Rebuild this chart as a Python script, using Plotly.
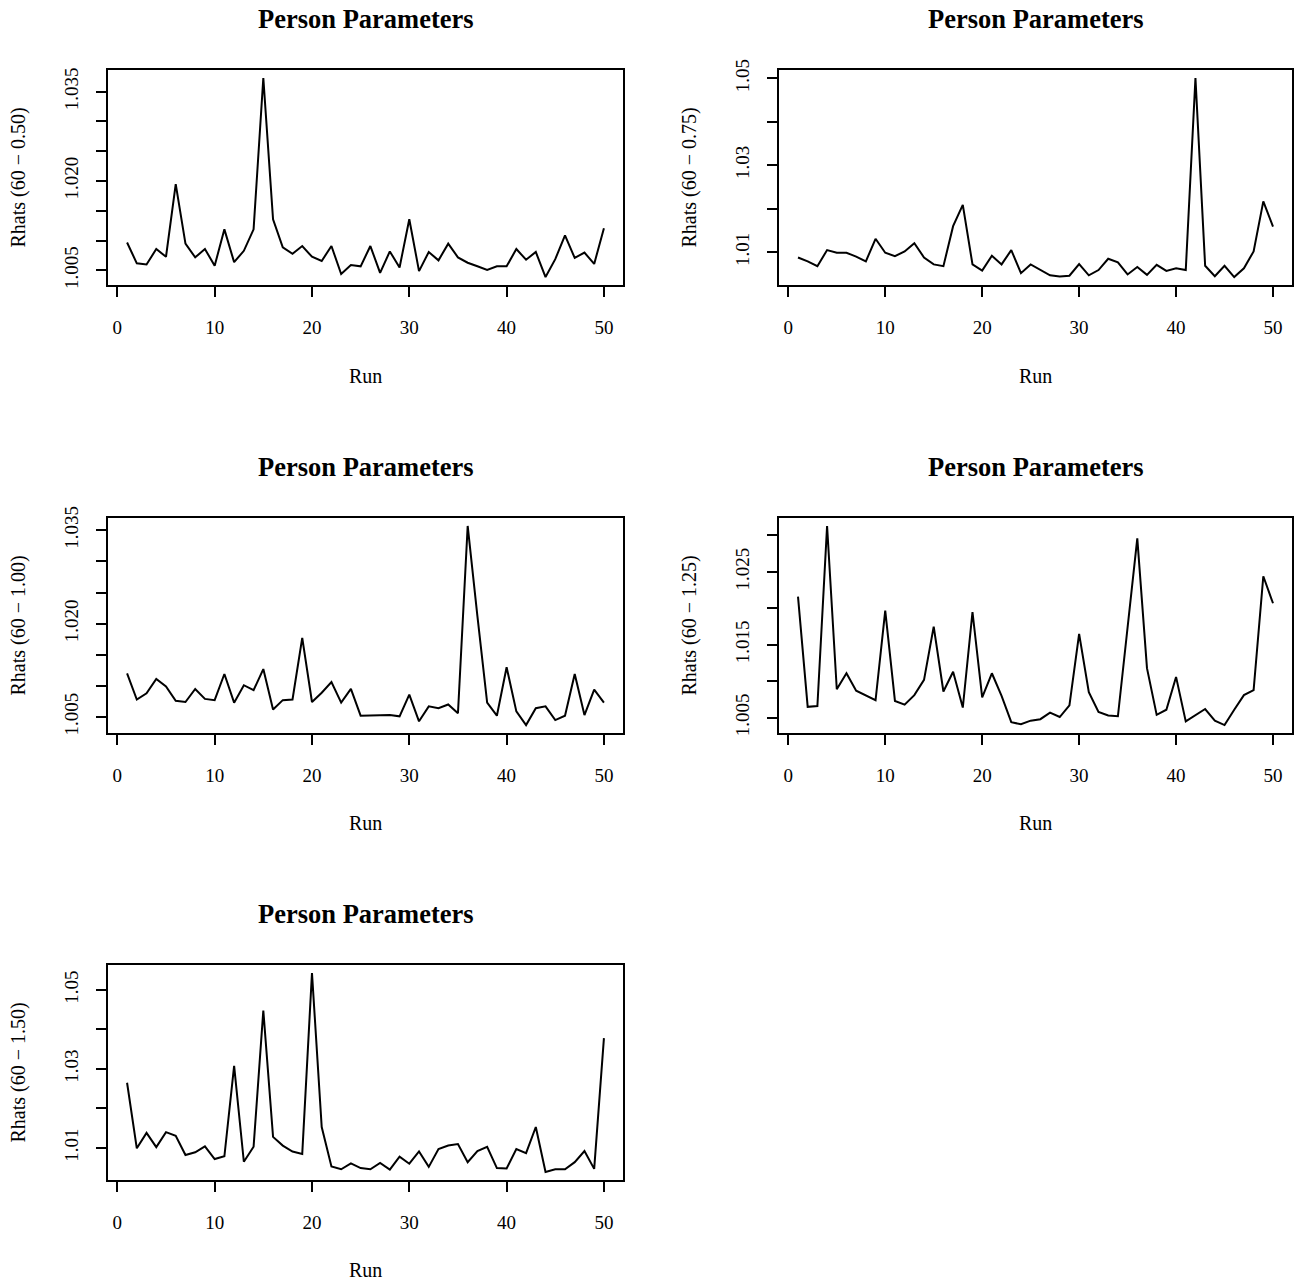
import plotly.graph_objects as go

runs = list(range(1, 51))

rhat_060_050 = [1.0097, 1.0062, 1.0060, 1.0086, 1.0073, 1.0195, 1.0095, 1.0072, 1.0086, 1.0058,
                1.0119, 1.0064, 1.0083, 1.0119, 1.0373, 1.0136, 1.0089, 1.0078, 1.0091, 1.0073,
                1.0066, 1.0091, 1.0044, 1.0059, 1.0057, 1.0091, 1.0046, 1.0082, 1.0055, 1.0136,
                1.0049, 1.0081, 1.0067, 1.0095, 1.0072, 1.0063, 1.0057, 1.0051, 1.0057, 1.0057,
                1.0086, 1.0068, 1.0081, 1.0039, 1.0069, 1.0109, 1.0071, 1.0080, 1.0061, 1.0121]

rhat_060_075 = [1.0088, 1.0079, 1.0068, 1.0105, 1.0099, 1.0099, 1.0090, 1.0079, 1.0131, 1.0099,
                1.0091, 1.0102, 1.0121, 1.0088, 1.0072, 1.0068, 1.0160, 1.0209, 1.0072, 1.0058,
                1.0092, 1.0072, 1.0105, 1.0052, 1.0072, 1.0060, 1.0047, 1.0044, 1.0046, 1.0073,
                1.0047, 1.0059, 1.0085, 1.0077, 1.0049, 1.0066, 1.0048, 1.0071, 1.0057, 1.0063,
                1.0059, 1.0501, 1.0069, 1.0045, 1.0069, 1.0043, 1.0063, 1.0102, 1.0217, 1.0159]

rhat_060_100 = [1.0120, 1.0078, 1.0088, 1.0111, 1.0099, 1.0076, 1.0074, 1.0095, 1.0079, 1.0077,
                1.0119, 1.0073, 1.0101, 1.0093, 1.0127, 1.0062, 1.0077, 1.0078, 1.0177, 1.0074,
                1.0089, 1.0106, 1.0073, 1.0095, 1.0052, 1.0052, 1.0053, 1.0053, 1.0051, 1.0086,
                1.0043, 1.0067, 1.0064, 1.0070, 1.0056, 1.0357, 1.0212, 1.0073, 1.0052, 1.0130,
                1.0059, 1.0037, 1.0064, 1.0067, 1.0045, 1.0052, 1.0119, 1.0053, 1.0094, 1.0073]

rhat_060_125 = [1.0216, 1.0065, 1.0066, 1.0313, 1.0089, 1.0111, 1.0087, 1.0081, 1.0074, 1.0197,
                1.0073, 1.0068, 1.0081, 1.0102, 1.0175, 1.0086, 1.0113, 1.0064, 1.0195, 1.0078,
                1.0111, 1.0080, 1.0044, 1.0041, 1.0046, 1.0048, 1.0057, 1.0051, 1.0067, 1.0165,
                1.0085, 1.0058, 1.0053, 1.0052, 1.0174, 1.0296, 1.0118, 1.0054, 1.0061, 1.0106,
                1.0045, 1.0054, 1.0062, 1.0046, 1.0040, 1.0061, 1.0081, 1.0088, 1.0244, 1.0207]

rhat_060_150 = [1.0265, 1.0099, 1.0138, 1.0102, 1.0140, 1.0131, 1.0082, 1.0089, 1.0104, 1.0072,
                1.0079, 1.0308, 1.0065, 1.0103, 1.0448, 1.0128, 1.0106, 1.0091, 1.0085, 1.0543,
                1.0153, 1.0053, 1.0046, 1.0061, 1.0049, 1.0046, 1.0062, 1.0045, 1.0078, 1.0060,
                1.0091, 1.0052, 1.0097, 1.0106, 1.0110, 1.0064, 1.0092, 1.0103, 1.0049, 1.0048,
                1.0097, 1.0087, 1.0153, 1.0039, 1.0046, 1.0046, 1.0064, 1.0092, 1.0047, 1.0378]

series_list = [rhat_060_050, rhat_060_075, rhat_060_100, rhat_060_125, rhat_060_150]
y_titles = ["Rhats (60 \u2212 0.50)", "Rhats (60 \u2212 0.75)", "Rhats (60 \u2212 1.00)",
            "Rhats (60 \u2212 1.25)", "Rhats (60 \u2212 1.50)"]
panel_title = "Person Parameters"
x_title = "Run"

x_tick_vals = [0, 10, 20, 30, 40, 50]
x_tick_text = ["0", "10", "20", "30", "40", "50"]

y_tick_vals = [
    [1.005, 1.010, 1.015, 1.020, 1.025, 1.030, 1.035],
    [1.01, 1.02, 1.03, 1.04, 1.05],
    [1.005, 1.010, 1.015, 1.020, 1.025, 1.030, 1.035],
    [1.005, 1.010, 1.015, 1.020, 1.025, 1.030],
    [1.01, 1.02, 1.03, 1.04, 1.05],
]
y_tick_text = [
    ["1.005", "", "", "1.020", "", "", "1.035"],
    ["1.01", "", "1.03", "", "1.05"],
    ["1.005", "", "", "1.020", "", "", "1.035"],
    ["1.005", "", "1.015", "", "1.025", ""],
    ["1.01", "", "1.03", "", "1.05"],
]

W, H = 1302, 1282
FONT = "Liberation Serif, Times New Roman, serif"

# layout geometry (pixels)
col_x = [(108, 623), (779, 1292)]
row_y = [(70, 285), (518, 733), (965, 1180)]
title_y = [19, 467, 914]
run_y = [376, 823, 1270]
ylab_x = [18, 689]


def px_x(p):
    return p / W


def px_y(p):
    return 1 - p / H


fig = go.Figure()
annotations = []
layout_axes = {}

for i, ys in enumerate(series_list):
    r, c = divmod(i, 2)
    n = i + 1
    xa = "x" if n == 1 else f"x{n}"
    ya = "y" if n == 1 else f"y{n}"
    fig.add_trace(go.Scatter(x=runs, y=ys, mode="lines",
                             line=dict(color="black", width=2),
                             xaxis=xa, yaxis=ya, showlegend=False,
                             hoverinfo="x+y"))
    x0, x1 = col_x[c]
    t0, t1 = row_y[r]
    xr = max(runs) - min(runs)
    yr = max(ys) - min(ys)
    common = dict(showline=True, mirror=True, linecolor="black", linewidth=1.8,
                  ticks="outside", ticklen=10, tickwidth=1.8, tickcolor="black",
                  showgrid=False, zeroline=False, automargin=False,
                  tickfont=dict(family=FONT, size=19, color="black"))
    layout_axes[f"xaxis{'' if n == 1 else n}"] = dict(
        domain=[px_x(x0), px_x(x1)], anchor=ya,
        range=[min(runs) - 0.04 * xr, max(runs) + 0.04 * xr],
        tickmode="array", tickvals=x_tick_vals, ticktext=x_tick_text,
        ticklabelstandoff=14, **common)
    layout_axes[f"yaxis{'' if n == 1 else n}"] = dict(
        domain=[px_y(t1), px_y(t0)], anchor=xa,
        range=[min(ys) - 0.04 * yr, max(ys) + 0.04 * yr],
        tickmode="array", tickvals=y_tick_vals[i], ticktext=y_tick_text[i],
        tickangle=-90, ticklabelstandoff=11, **common)

    cx = px_x((x0 + x1) / 2)
    annotations.append(dict(text=f"<b>{panel_title}</b>", x=cx, y=px_y(title_y[r]),
                            xref="paper", yref="paper", showarrow=False,
                            xanchor="center", yanchor="middle",
                            font=dict(family=FONT, size=26.5, color="black")))
    annotations.append(dict(text=x_title, x=cx, y=px_y(run_y[r]),
                            xref="paper", yref="paper", showarrow=False,
                            xanchor="center", yanchor="middle",
                            font=dict(family=FONT, size=20, color="black")))
    annotations.append(dict(text=y_titles[i], x=px_x(ylab_x[c]), y=px_y((t0 + t1) / 2),
                            xref="paper", yref="paper", showarrow=False,
                            xanchor="center", yanchor="middle", textangle=-90,
                            font=dict(family=FONT, size=20, color="black")))

fig.update_layout(width=W, height=H, autosize=False,
                  margin=dict(l=0, r=0, t=0, b=0, pad=0),
                  paper_bgcolor="white", plot_bgcolor="white",
                  annotations=annotations, **layout_axes)

fig.write_html("out.html", config={"displayModeBar": False},
               post_script="document.body.style.margin='0';document.body.style.overflow='hidden';")
